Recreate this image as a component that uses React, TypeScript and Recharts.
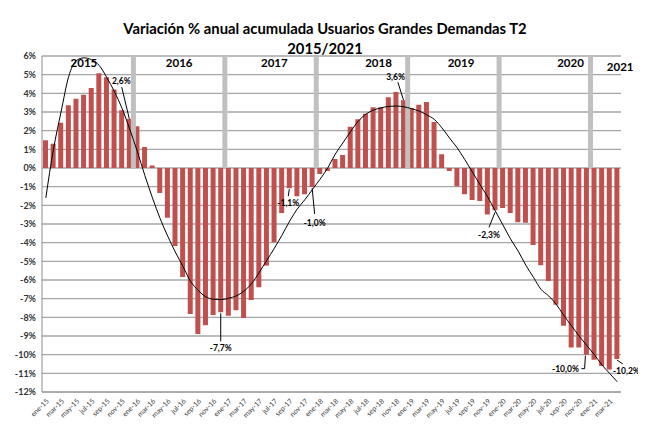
import {
  Bar,
  CartesianGrid,
  ComposedChart,
  LabelList,
  Line,
  ReferenceDot,
  ReferenceLine,
  XAxis,
  YAxis,
} from "recharts";

const periods = [
  "ene-15", "feb-15", "mar-15", "abr-15", "may-15", "jun-15", "jul-15", "ago-15", "sep-15", "oct-15", "nov-15", "dic-15",
  "ene-16", "feb-16", "mar-16", "abr-16", "may-16", "jun-16", "jul-16", "ago-16", "sep-16", "oct-16", "nov-16", "dic-16",
  "ene-17", "feb-17", "mar-17", "abr-17", "may-17", "jun-17", "jul-17", "ago-17", "sep-17", "oct-17", "nov-17", "dic-17",
  "ene-18", "feb-18", "mar-18", "abr-18", "may-18", "jun-18", "jul-18", "ago-18", "sep-18", "oct-18", "nov-18", "dic-18",
  "ene-19", "feb-19", "mar-19", "abr-19", "may-19", "jun-19", "jul-19", "ago-19", "sep-19", "oct-19", "nov-19", "dic-19",
  "ene-20", "feb-20", "mar-20", "abr-20", "may-20", "jun-20", "jul-20", "ago-20", "sep-20", "oct-20", "nov-20", "dic-20",
  "ene-21", "feb-21", "mar-21", "abr-21",
];

// variación % anual acumulada
const variation = [
  1.48, 1.3, 2.43, 3.36, 3.71, 3.93, 4.29, 5.07, 4.86, 4.2, 3.09, 2.64,
  2.23, 1.13, 0.14, -1.34, -2.66, -4.18, -5.84, -7.82, -8.89, -8.42, -7.87, -7.73,
  -7.91, -7.62, -8.04, -7.07, -6.39, -5.23, -3.98, -2.41, -1.08, -1.52, -1.41, -1.02,
  -0.32, -0.16, 0.48, 0.7, 2.21, 2.61, 2.91, 3.25, 3.25, 3.79, 4.07, 3.63,
  3.22, 3.39, 3.54, 2.46, 0.73, -0.16, -0.98, -1.41, -1.71, -1.77, -2.49, -2.27,
  -2.14, -2.41, -2.91, -2.93, -4.13, -5.21, -6.05, -7.32, -8.45, -9.61, -9.61, -10.0,
  -10.27, -10.61, -10.79, -10.23,
];

// línea de tendencia
const trend = [
  -1.6, 1.0, 3.0, 4.9, 5.75, 5.9, 5.8, 5.5, 4.85, 4.1, 3.2, 2.1,
  0.9, -0.4, -1.6, -2.7, -3.65, -4.5, -5.27, -6.07, -6.55, -6.9, -7.03, -7.05,
  -6.98, -6.85, -6.6, -6.2, -5.6, -4.95, -4.3, -3.6, -2.85, -2.2, -1.7, -1.15,
  -0.6, 0.0, 0.75, 1.35, 1.95, 2.5, 2.88, 3.1, 3.22, 3.3, 3.32, 3.28,
  3.18, 3.05, 2.85, 2.6, 2.15, 1.6, 1.08, 0.45, -0.22, -0.9, -1.55, -2.3,
  -3.05, -3.8, -4.45, -5.2, -5.85, -6.5, -6.85, -7.3, -7.9, -8.45, -9.0, -9.5,
  -10.0, -10.55, -11.0, -11.45,
];

const yearStarts = ["ene-16", "ene-17", "ene-18", "ene-19", "ene-20", "ene-21"];

const yearLabels = [
  { year: "2015", at: "jun-15", y: 5.63, dx: 0 },
  { year: "2016", at: "jul-16", y: 5.63, dx: -3.8 },
  { year: "2017", at: "jul-17", y: 5.6, dx: 0 },
  { year: "2018", at: "sep-18", y: 5.6, dx: -2.5 },
  { year: "2019", at: "ago-19", y: 5.6, dx: -3.8 },
  { year: "2020", at: "oct-20", y: 5.6, dx: -1 },
  { year: "2021", at: "abr-21", y: 5.4, dx: 3 },
];

const yTicks = [-12, -11, -10, -9, -8, -7, -6, -5, -4, -3, -2, -1, 0, 1, 2, 3, 4, 5, 6];

type Callout = {
  line: number[][];
  tx: number;
  ty: number;
  anchor: "start" | "middle" | "end";
};

// leader lines and text offsets from the bar end
const callouts: Record<string, Callout> = {
  "dic-15": { line: [[0, 0], [-7.6, -31.6]], tx: -8, ty: -35, anchor: "middle" },
  "dic-16": { line: [[0, 1], [0, 29]], tx: 0, ty: 39, anchor: "middle" },
  "sep-17": { line: [[0, 1], [-1, 8]], tx: -1, ty: 17.5, anchor: "middle" },
  "dic-17": { line: [[0, 1], [2.5, 27]], tx: 2.5, ty: 38.5, anchor: "middle" },
  "dic-18": { line: [[0, 0], [-5.7, -18]], tx: -8, ty: -20, anchor: "middle" },
  "dic-19": { line: [[0, 2], [-6, 17]], tx: -6, ty: 28, anchor: "middle" },
  "dic-20": { line: [[-1, 1], [-1.8, 14], [-5, 14]], tx: -7.5, ty: 17, anchor: "end" },
  "abr-21": { line: [[0, 1], [6, 5]], tx: -4, ty: 15.5, anchor: "start" },
};

const data = periods.map((period, i) => ({
  period,
  variation: variation[i],
  trend: trend[i],
}));

const fmt = (v: number) => `${v.toFixed(1).replace(".", ",")}%`;

function CalloutLabel(props: any) {
  const period = props.value as string;
  const c = callouts[period];
  if (!c) return null;
  const vb = props.viewBox || props;
  const x = Number(vb.x);
  const y = Number(vb.y);
  const w = Number(vb.width);
  const h = Number(vb.height);
  const v = variation[periods.indexOf(period)];
  const cx = x + w / 2;
  const ey = v >= 0 ? Math.min(y, y + h) : Math.max(y, y + h);
  const pts = c.line.map(([dx, dy]) => `${cx + dx},${ey + dy}`).join(" ");
  return (
    <g>
      <polyline points={pts} fill="none" stroke="#000" strokeWidth={1} />
      <text
        x={cx + c.tx}
        y={ey + c.ty}
        textAnchor={c.anchor}
        fontSize={8.5}
        fontWeight="bold"
        fontFamily="Lato, sans-serif"
        fill="#000"
      >
        {fmt(v)}
      </text>
    </g>
  );
}

function YearLabel(props: any) {
  const vb = props.viewBox || {};
  const cx = Number(vb.x) + Number(vb.width || 0) / 2 + (props.dx || 0);
  const cy = Number(vb.y) + Number(vb.height || 0) / 2;
  return (
    <text
      x={cx}
      y={cy + 4}
      textAnchor="middle"
      fontSize={11.5}
      fontWeight="bold"
      fontFamily="Lato, sans-serif"
      fill="#000"
    >
      {props.text}
    </text>
  );
}

export default function App() {
  return (
    <div style={{ position: "relative", width: 638, height: 411, fontFamily: "Lato, sans-serif" }}>
      <div
        style={{
          position: "absolute",
          left: 0,
          width: 634,
          top: 10,
          textAlign: "center",
          fontWeight: "bold",
          fontSize: 14.8,
          lineHeight: "20px",
          color: "#000",
        }}
      >
        <div>Variación % anual acumulada Usuarios Grandes Demandas T2</div>
        <div>2015/2021</div>
      </div>
      <ComposedChart
        width={638}
        height={410}
        data={data}
        margin={{ top: 48, right: 25, bottom: 2, left: 0 }}
        barCategoryGap={0}
      >
        <CartesianGrid vertical={false} stroke="#a6a6a6" strokeWidth={1.4} />
        {yearStarts.map((p) => (
          <ReferenceLine
            key={p}
            segment={[
              { x: p, y: 0 },
              { x: p, y: 6 },
            ]}
            position="start"
            stroke="#c0c0c0"
            strokeWidth={5}
          />
        ))}
        <XAxis
          dataKey="period"
          interval={1}
          angle={-45}
          height={24}
          tickSize={4}
          tickMargin={2}
          tickLine={false}
          axisLine={{ stroke: "#a6a6a6", strokeWidth: 1.4 }}
          tick={{ fontSize: 7, fill: "#404040", textAnchor: "end", fontFamily: "Lato, sans-serif" }}
        />
        <YAxis
          domain={[-12, 6]}
          ticks={yTicks}
          width={34}
          tickSize={4}
          tickMargin={2}
          tickLine={false}
          interval={0}
          allowDataOverflow
          axisLine={{ stroke: "#8c8c8c" }}
          tickFormatter={(v) => `${v}%`}
          tick={{ fontSize: 9, fill: "#333", fontWeight: "bold", fontFamily: "Lato, sans-serif" }}
        />
        <Bar dataKey="variation" fill="#c0504d" barSize={5} isAnimationActive={false}>
          <LabelList dataKey="period" content={CalloutLabel} />
        </Bar>
        <Line
          type="monotone"
          dataKey="trend"
          stroke="#000"
          strokeWidth={1}
          dot={false}
          activeDot={false}
          isAnimationActive={false}
        />
        {yearLabels.map((l) => (
          <ReferenceDot
            key={l.year}
            x={l.at}
            y={l.y}
            r={0}
            fill="none"
            stroke="none"
            label={<YearLabel text={l.year} dx={l.dx} />}
          />
        ))}
      </ComposedChart>
    </div>
  );
}
